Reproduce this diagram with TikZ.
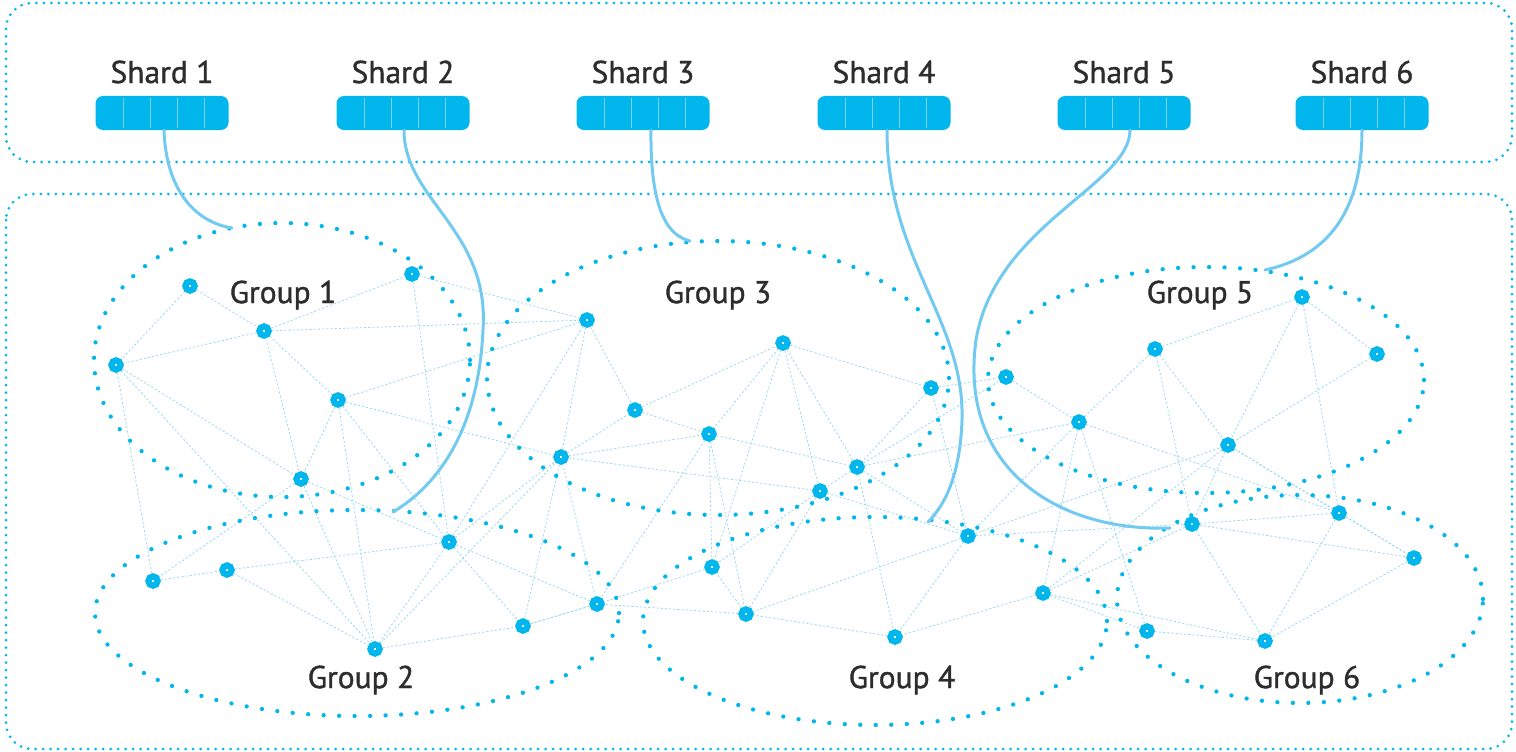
\documentclass[tikz,border=0pt]{standalone}
\usepackage{fontspec}
\setmainfont{PT Sans}
\newfontfamily\lblfont{PT Sans}[FakeBold=1.1]
\usetikzlibrary{calc}
\definecolor{cyanM}{RGB}{0,182,237}
\definecolor{edgeC}{RGB}{155,217,240}
\definecolor{connC}{RGB}{115,202,240}
\definecolor{divC}{RGB}{120,212,245}
\definecolor{txtC}{RGB}{45,45,45}
\pgfdeclarelayer{bg}
\pgfsetlayers{bg,main}
\tikzset{
  dotn/.style={circle,draw=cyanM,line width=6.2pt,fill=white,inner sep=0pt,minimum size=9.2pt},
  netedge/.style={draw=edgeC,line width=0.8pt,dash pattern=on 2.2pt off 2pt},
  grpring/.style={draw=cyanM,line width=4.3pt,line cap=round,dash pattern=on 0pt off 15.5pt},
  outerbox/.style={draw=cyanM,line width=3pt,line cap=round,dash pattern=on 0pt off 7.5pt,rounded corners=26pt},
  shardbox/.style={rectangle,rounded corners=7.5pt,fill=cyanM,minimum width=133pt,minimum height=34pt,inner sep=0pt},
  lbl/.style={text=txtC,font=\lblfont\fontsize{31.5}{36}\selectfont,inner sep=0pt},
  conn/.style={draw=connC,line width=3pt,line cap=round},
}
\begin{document}
\begin{tikzpicture}[x=1pt,y=-1pt]
\useasboundingbox (0,0) rectangle (1516,752);
% outer frames
\draw[outerbox] (6,3) rectangle (1512,162);
\draw[outerbox] (6,194) rectangle (1512,749);
% shards
\foreach \i/\x in {1/162,2/403,3/643,4/884,5/1124,6/1362}{
  \node[shardbox] (s\i) at (\x,113) {};
  \foreach \d in {28,55,82,109}{
    \draw[divC,line width=1.3pt] ($(s\i.north west)+(\d,2)$) -- ($(s\i.south west)+(\d,-2)$);
  }
  \node[lbl] (sl\i) at (\x,72) {Shard \i};
}
% group rings
\draw[grpring] (282,360) ellipse [x radius=188pt, y radius=137pt];
\draw[grpring] (357,613) ellipse [x radius=262pt, y radius=103pt];
\draw[grpring] (718,378) ellipse [x radius=231pt, y radius=137pt];
\draw[grpring] (875,621) ellipse [x radius=232pt, y radius=104pt];
\draw[grpring] (1206,380) ellipse [x radius=218pt, y radius=113pt];
\draw[grpring] (1300,599) ellipse [x radius=183pt, y radius=104pt];
% group labels
\node[lbl] (g1) at (283,295) {Group 1};
\node[lbl] (g2) at (361,680) {Group 2};
\node[lbl] (g3) at (718,295) {Group 3};
\node[lbl] (g4) at (902,680) {Group 4};
\node[lbl] (g5) at (1200,295) {Group 5};
\node[lbl] (g6) at (1307,680) {Group 6};
% network nodes
\foreach \n/\p in {1/{190,286},2/{264,331},3/{116,365},4/{338,400},5/{301,479},6/{412,274},
  7/{587,320},8/{635,410},9/{783,343},10/{709,434},11/{561,457},12/{931,388},13/{857,467},
  14/{820,491},15/{1006,377},16/{1155,349},17/{1302,297},18/{1377,354},19/{1079,422},
  20/{1228,445},21/{1339,513},22/{1192,524},23/{1414,558},24/{968,536},25/{1043,593},
  26/{1147,631},27/{1265,641},28/{895,637},29/{746,614},30/{712,567},31/{597,604},
  32/{523,626},33/{449,542},34/{375,649},35/{227,570},36/{153,581}}{
  \node[dotn] (n\n) at (\p) {};
}
\begin{pgfonlayer}{bg}
\foreach \a/\b in {1/3,1/2,2/3,2/6,2/7,2/4,2/5,3/5,3/36,3/34,
  4/5,4/7,4/11,4/34,4/33,6/7,6/33,5/36,5/34,5/33,
  36/35,35/33,35/34,34/33,34/32,34/11,33/11,33/31,33/32,
  32/11,32/31,31/11,11/7,11/8,11/10,11/14,7/8,7/33,
  8/9,8/10,9/10,9/12,9/13,9/14,9/30,10/13,10/30,10/29,10/31,
  12/13,12/15,12/24,13/14,13/19,13/24,13/28,13/15,
  14/24,14/29,14/30,15/19,19/16,19/24,19/25,19/26,19/21,
  24/20,24/22,24/28,24/29,16/17,16/20,16/22,17/18,17/20,17/21,
  18/20,20/21,20/23,20/22,20/25,22/21,22/27,22/25,22/23,
  21/27,21/23,23/27,25/26,25/27,25/28,26/27,28/29,29/31,29/30,30/31,31/32}{
  \draw[netedge] (n\a) -- (n\b);
}
\end{pgfonlayer}
% shard connectors
\coordinate (e1) at (232,228);
\coordinate (e2) at (393,512);
\coordinate (e3) at (690,241);
\coordinate (e4) at (928,522);
\coordinate (e5) at (1170,528);
\coordinate (e6) at (1265,270);
\draw[conn] ($(s1.south)+(2,0)$) .. controls (166,190) and (195,222) .. (e1);
\draw[conn] ($(s2.south)+(1,0)$) .. controls (404,200) and (490,230) .. (483,330)
   .. controls (478,440) and (430,490) .. (e2);
\draw[conn] ($(s3.south)+(8,0)$) .. controls (650,215) and (670,236) .. (e3);
\draw[conn] ($(s4.south)+(3,0)$) .. controls (887,260) and (965,320) .. (962,420)
   .. controls (960,480) and (942,508) .. (e4);
\draw[conn] ($(s5.south)+(6,0)$) .. controls (1130,185) and (995,225) .. (976,340)
   .. controls (958,470) and (1060,532) .. (e5);
\draw[conn] ($(s6.south)+(0,0)$) .. controls (1362,220) and (1320,258) .. (e6);
\end{tikzpicture}
\end{document}
